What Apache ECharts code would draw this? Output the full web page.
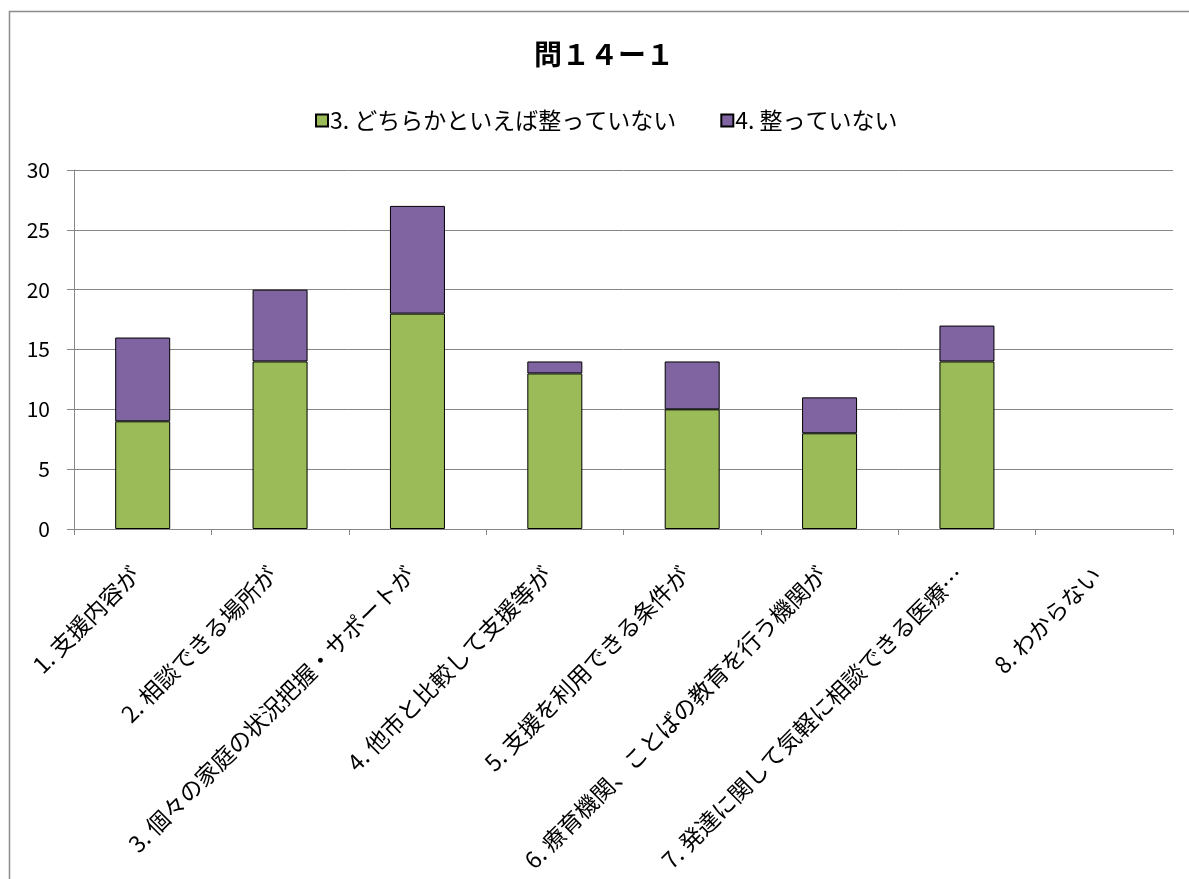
<!DOCTYPE html>
<html>
<head>
<meta charset="utf-8">
<script src="https://cdn.jsdelivr.net/npm/echarts@6/dist/echarts.min.js"></script>
<style>
html,body{margin:0;padding:0;background:#fff;}
#chart{width:1189px;height:879px;}
</style>
</head>
<body>
<div id="chart"></div>
<script>
const categories = [
  "1. 支援内容が",
  "2. 相談できる場所が",
  "3. 個々の家庭の状況把握・サポートが",
  "4. 他市と比較して支援等が",
  "5. 支援を利用できる条件が",
  "6. 療育機関、ことばの教育を行う機関が",
  "7. 発達に関して気軽に相談できる医療…",
  "8. わからない"
];
const seriesNames = ["3. どちらかといえば整っていない", "4. 整っていない"];
const somewhatNot = [9, 14, 18, 13, 10, 8, 14, 0];
const notReady = [7, 6, 9, 1, 4, 3, 3, 0];
const yTicks = [0, 5, 10, 15, 20, 25, 30];

function barData(arr) {
  return arr.map(function (v) {
    return v === 0 ? { value: v, itemStyle: { borderWidth: 0 } } : v;
  });
}

const FONT = '"Noto Sans CJK JP", "Noto Sans", sans-serif';
const chart = echarts.init(document.getElementById('chart'));
chart.setOption({
  animation: false,
  backgroundColor: '#fff',
  textStyle: { fontFamily: FONT, color: '#000' },
  graphic: [{
    type: 'rect',
    shape: { x: 9.5, y: 11.5, width: 1300, height: 1000 },
    style: { fill: 'none', stroke: '#8c8c8c', lineWidth: 1.5 },
    silent: true, z: -1
  }],
  title: {
    text: '問１４ー１',
    left: 529,
    top: 35,
    textStyle: { fontFamily: FONT, fontSize: 28, fontWeight: 'bold', color: '#000' }
  },
  legend: {
    top: 104,
    left: 310,
    itemWidth: 12,
    itemHeight: 12,
    itemGap: 44,
    icon: 'rect',
    textStyle: { fontFamily: FONT, fontSize: 23, color: '#000', padding: [0, 0, 0, -3] },
    data: seriesNames
  },
  grid: { left: 74, right: 16, top: 170, bottom: 350, containLabel: false, outerBoundsMode: 'none' },
  xAxis: {
    type: 'category',
    data: categories,
    boundaryGap: true,
    axisLine: { lineStyle: { color: '#868686', width: 1 } },
    axisTick: { show: true, alignWithLabel: false, length: 6, lineStyle: { color: '#868686' } },
    axisLabel: {
      interval: 0,
      rotate: 45,
      margin: 18,
      verticalAlign: 'top',
      padding: [0, 22, 0, 0],
      fontSize: 23,
      fontFamily: FONT,
      color: '#000'
    }
  },
  yAxis: {
    type: 'value',
    min: 0,
    max: 30,
    interval: 5,
    axisLine: { show: true, lineStyle: { color: '#868686', width: 1 } },
    axisTick: { show: true, length: 7, lineStyle: { color: '#868686' } },
    splitLine: { show: true, lineStyle: { color: '#868686', width: 1 } },
    axisLabel: {
      margin: 24,
      fontSize: 21,
      fontFamily: FONT,
      color: '#000',
      formatter: function (v) { return yTicks.indexOf(v) >= 0 ? String(v) : ''; }
    }
  },
  series: [
    {
      name: seriesNames[0],
      type: 'bar',
      stack: 'total',
      data: barData(somewhatNot),
      barWidth: 55,
      itemStyle: { color: '#9BBB59', borderColor: '#000', borderWidth: 1 }
    },
    {
      name: seriesNames[1],
      type: 'bar',
      stack: 'total',
      data: barData(notReady),
      barWidth: 55,
      itemStyle: { color: '#8064A2', borderColor: '#000', borderWidth: 1 }
    }
  ]
});
</script>
</body>
</html>
